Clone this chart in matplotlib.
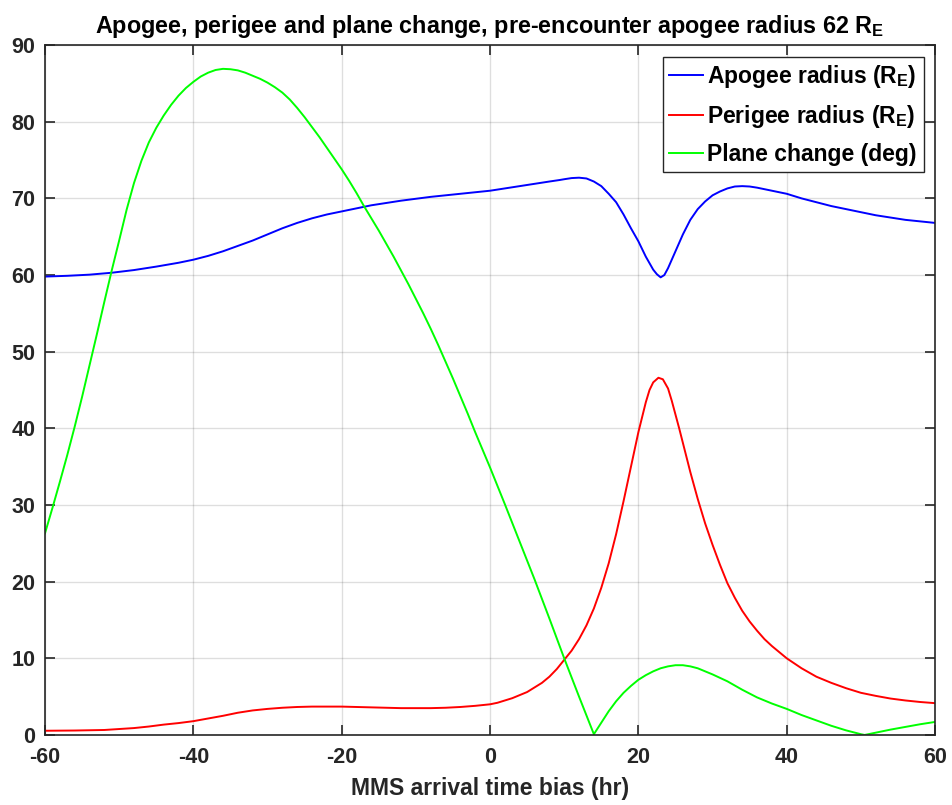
import matplotlib
matplotlib.use("Agg")
import matplotlib.pyplot as plt

plt.rcParams["font.family"] = ["Liberation Sans", "DejaVu Sans"]
plt.rcParams["font.weight"] = "bold"
plt.rcParams["mathtext.fontset"] = "custom"
plt.rcParams["mathtext.bf"] = "Liberation Sans:bold"
plt.rcParams["mathtext.rm"] = "Liberation Sans:bold"
plt.rcParams["axes.unicode_minus"] = False

# ---- apogee radius (R_E) ----
apo_t = [-60, -57, -54, -51, -48, -45, -42, -40, -38, -36, -34, -32,
         -30, -28, -26, -24, -22, -20, -18, -16, -14, -12, -10, -8, -6, -4,
         -2, 0, 2, 4, 6, 8, 9.4, 10, 11, 12, 13, 14, 15, 16, 17, 18, 19, 20,
         21, 22, 22.5, 23, 23.5, 24, 25, 26, 27, 28, 29, 30, 31, 32, 33, 34,
         35, 36, 38, 40, 42, 44, 46, 48, 50, 52, 54, 56, 58, 60]
apo_r = [59.8, 59.9, 60.05, 60.3, 60.65, 61.1, 61.6, 62.0, 62.5, 63.1,
         63.8, 64.5, 65.3, 66.1, 66.8, 67.4, 67.9, 68.3, 68.7, 69.1, 69.4,
         69.7, 69.95, 70.2, 70.4, 70.6, 70.8, 71.0, 71.3, 71.6, 71.9, 72.2,
         72.4, 72.5, 72.65, 72.7, 72.6, 72.2, 71.6, 70.6, 69.5, 67.9, 66.1,
         64.4, 62.4, 60.7, 60.1, 59.7, 60.0, 60.9, 63.1, 65.3, 67.2, 68.6,
         69.6, 70.4, 70.9, 71.3, 71.55, 71.6, 71.55, 71.4, 71.0, 70.6, 70.0,
         69.5, 69.0, 68.6, 68.2, 67.8, 67.5, 67.2, 67.0, 66.8]

# ---- perigee radius (R_E) ----
per_t = [-60, -56, -52, -48, -46, -44, -42, -40, -38, -36, -34, -32, -30, -28,
         -26, -24, -22, -20, -18, -16, -14, -12, -10, -8, -6, -4, -2, 0, 1, 2,
         3, 4, 5, 6, 7, 8, 9, 10, 11, 12, 13, 14, 15, 16, 17, 18, 19, 20, 21,
         21.5, 22, 22.7, 23.3, 24, 24.5, 25, 25.5, 26, 27, 28, 29, 30, 31, 32,
         33, 34, 35, 36, 37, 38, 40, 42, 44, 46, 48, 50, 52, 54, 56, 58, 60]
per_r = [0.55, 0.58, 0.65, 0.9, 1.1, 1.35, 1.55, 1.8, 2.15, 2.5, 2.9, 3.2, 3.4,
         3.55, 3.65, 3.7, 3.7, 3.7, 3.65, 3.6, 3.55, 3.5, 3.5, 3.5, 3.55,
         3.65, 3.8, 4.0, 4.2, 4.5, 4.8, 5.2, 5.6, 6.2, 6.8, 7.6, 8.6, 9.8,
         11.0, 12.5, 14.3, 16.5, 19.2, 22.4, 26.2, 30.5, 35.0, 39.5, 43.4,
         45.0, 46.0, 46.6, 46.4, 45.2, 43.6, 41.8, 40.0, 38.1, 34.3, 30.8,
         27.6, 24.8, 22.2, 19.8, 17.9, 16.2, 14.8, 13.6, 12.5, 11.6, 10.0,
         8.7, 7.6, 6.8, 6.1, 5.5, 5.1, 4.75, 4.5, 4.3, 4.15]

# ---- plane change (deg) ----
pc_t = [-60, -59, -58, -57, -56, -55, -54, -53, -52, -51, -50, -49, -48, -47,
        -46, -45, -44, -43, -42, -41, -40, -39, -38, -37, -36, -35, -34, -33,
        -32, -31, -30, -29, -28, -27, -26, -25, -24, -23, -22, -21, -20, -19,
        -18, -17, -16, -15, -14, -13, -12, -11, -10, -9, -8, -7, -6, -5, -4,
        -3, -2, -1, 0, 2, 4, 6, 8, 10, 12, 14, 15, 16, 17, 18, 19, 20, 21,
        22, 23, 24, 25, 26, 27, 28, 30, 32, 34, 36, 38, 40, 42, 44, 46, 48,
        50, 50.5, 51, 52, 54, 56, 58, 60]
pc_deg = [26.3, 29.6, 33.0, 36.5, 40.2, 44.1, 48.2, 52.3, 56.5, 60.6, 64.5,
          68.5, 72.0, 74.9, 77.3, 79.2, 80.8, 82.2, 83.4, 84.4, 85.2, 85.9,
          86.4, 86.75, 86.9, 86.85, 86.7, 86.4, 86.0, 85.6, 85.1, 84.5, 83.8,
          82.9, 81.8, 80.6, 79.3, 78.0, 76.6, 75.2, 73.8, 72.3, 70.7, 69.0,
          67.4, 65.8, 64.1, 62.4, 60.6, 58.8, 56.9, 55.0, 53.0, 50.9, 48.7,
          46.5, 44.2, 41.9, 39.5, 37.2, 34.9, 30.1, 25.2, 20.3, 15.2, 10.0,
          5.0, 0.1, 1.6, 3.1, 4.4, 5.5, 6.4, 7.2, 7.8, 8.3, 8.7, 8.95, 9.1,
          9.1, 8.95, 8.7, 7.9, 7.0, 5.9, 4.9, 4.1, 3.4, 2.6, 1.9, 1.2, 0.6,
          0.1, 0.0, 0.1, 0.3, 0.7, 1.05, 1.4, 1.7]

dark = (0.15, 0.15, 0.15)

fig = plt.figure(figsize=(9.53, 8.05), dpi=100)
ax = fig.add_axes([0.0472, 0.087, 0.934, 0.857])

ax.plot(apo_t, apo_r, color=(0, 0, 1), lw=1.4, solid_joinstyle="round",
        label=r"Apogee radius (R$_\mathbf{E}$)")
ax.plot(per_t, per_r, color=(1, 0, 0), lw=1.4, solid_joinstyle="round",
        label=r"Perigee radius (R$_\mathbf{E}$)")
ax.plot(pc_t, pc_deg, color=(0, 1, 0), lw=1.4, solid_joinstyle="round",
        label="Plane change (deg)")

ax.set_xlim(-60, 60)
ax.set_ylim(0, 90)
ax.set_xticks(range(-60, 61, 20))
ax.set_yticks(range(0, 91, 10))
ax.grid(True, color=dark, alpha=0.15, lw=1.0)
ax.tick_params(direction="in", length=7, width=1.2, top=True, right=True,
               labelsize=15.5, color=dark, labelcolor=dark)
ax.tick_params(axis="x", pad=9)
ax.tick_params(axis="y", pad=7)
for lbl in ax.get_xticklabels() + ax.get_yticklabels():
    lbl.set_fontweight("bold")
for sp in ax.spines.values():
    sp.set_linewidth(1.2)
    sp.set_color(dark)

ax.set_xlabel("MMS arrival time bias (hr)", fontsize=16.5, fontweight="bold",
              labelpad=6, color=dark)
ax.set_title(r"Apogee, perigee and plane change, pre-encounter apogee radius 62 R$_\mathbf{E}$",
             fontsize=16.8, fontweight="bold", pad=9)

leg = ax.legend(loc="upper right", fontsize=16.5, handlelength=1.45,
                handletextpad=0.2, borderpad=0.3, labelspacing=0.55,
                fancybox=False, framealpha=1, borderaxespad=0.5)
leg.get_frame().set_edgecolor(dark)
leg.get_frame().set_linewidth(1.0)
for t in leg.get_texts():
    t.set_fontweight("bold")

fig.savefig("out.png", dpi=100, facecolor="white")
